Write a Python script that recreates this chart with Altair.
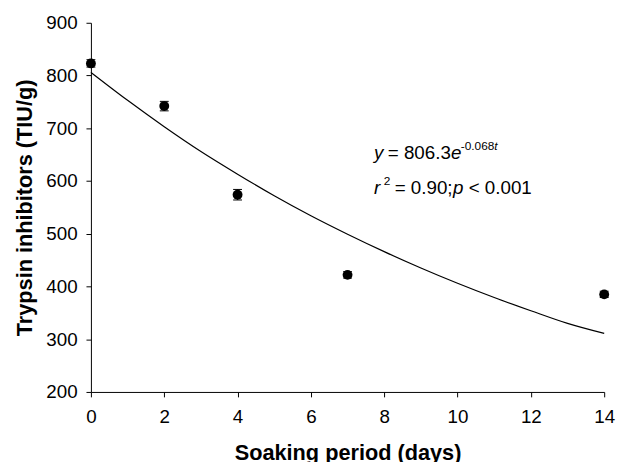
import altair as alt
import pandas as pd

# ---- data ----
days = [0, 2, 4, 7, 14]
trypsin = [823, 742, 574, 422, 385]
err = [7, 9, 10, 6, 6]

fit_days = [0, 1, 2, 3, 4, 5, 6, 7, 8, 9, 10, 11, 12, 13, 14]
fit_vals = [806, 753, 703, 656, 613, 572, 534, 499, 466, 435, 406, 379, 354, 330, 311]

x_ticks = [0, 2, 4, 6, 8, 10, 12, 14]
y_ticks = [200, 300, 400, 500, 600, 700, 800, 900]

ann_t = [7.72]
ann_line1 = [642]
ann_line2 = [576]

pts = pd.DataFrame({
    "t": days,
    "v": trypsin,
    "lo": [v - e for v, e in zip(trypsin, err)],
    "hi": [v + e for v, e in zip(trypsin, err)],
})
fit = pd.DataFrame({"t": fit_days, "v": fit_vals})
a1 = pd.DataFrame({"t": ann_t, "v": ann_line1})
a2 = pd.DataFrame({"t": ann_t, "v": ann_line2})

FONT = "Liberation Sans"
xs = alt.Scale(domain=[0, 14], nice=False, zero=False)
ys = alt.Scale(domain=[200, 900], nice=False, zero=False)

xa = alt.Axis(values=x_ticks, title="Soaking period (days)", grid=False,
              tickSize=5, labelFontSize=19, labelPadding=11, labelFont=FONT,
              titleFont=FONT, titleFontSize=22, titleFontWeight="bold",
              titlePadding=16, domainColor="black", tickColor="black",
              labelColor="black", titleColor="black", labelFlush=False)
ya = alt.Axis(values=y_ticks, title="Trypsin inhibitors (TIU/g)", grid=False,
              tickSize=5, labelFontSize=19, labelPadding=9, labelFont=FONT,
              titleFont=FONT, titleFontSize=22, titleFontWeight="bold",
              titlePadding=9, domainColor="black", tickColor="black",
              labelColor="black", titleColor="black")


def X(f="t"):
    return alt.X(f"{f}:Q", scale=xs, axis=xa)


def Y(f="v"):
    return alt.Y(f"{f}:Q", scale=ys, axis=ya)


curve = alt.Chart(fit).mark_line(color="black", strokeWidth=1.2,
                                 interpolate="monotone").encode(x=X(), y=Y())

bars = alt.Chart(pts).mark_rule(color="black", strokeWidth=1).encode(
    x=X(), y=Y("lo"), y2="hi:Q")
cap_lo = alt.Chart(pts).mark_tick(orient="horizontal", color="black", size=9,
                                  thickness=1, opacity=1).encode(x=X(), y=Y("lo"))
cap_hi = alt.Chart(pts).mark_tick(orient="horizontal", color="black", size=9,
                                  thickness=1, opacity=1).encode(x=X(), y=Y("hi"))
dots = alt.Chart(pts).mark_circle(color="black", size=100, opacity=1).encode(
    x=X(), y=Y())


def txt(df, s, dx, size=19, italic=False, dy=0):
    kw = dict(text=s, dx=dx, dy=dy, align="left", baseline="alphabetic",
              font=FONT, fontSize=size, color="black")
    if italic:
        kw["fontStyle"] = "italic"
    return alt.Chart(df).mark_text(**kw).encode(x=X(), y=Y())


ann = [
    txt(a1, "y", 0, italic=True),
    txt(a1, "= 806.3", 14),
    txt(a1, "e", 78, italic=True),
    txt(a1, "-0.068", 88, size=12, dy=-9),
    txt(a1, "t", 122, size=12, italic=True, dy=-9),
    txt(a2, "r", 0, italic=True),
    txt(a2, "2", 10, size=12, dy=-9),
    txt(a2, "= 0.90;", 21),
    txt(a2, "p", 80, italic=True),
    txt(a2, "< 0.001", 96),
]

chart = alt.layer(curve, bars, cap_lo, cap_hi, dots, *ann).properties(
    width=520, height=374,
    autosize=alt.AutoSizeParams(type="none"),
    padding={"left": 84, "top": 12, "right": 15, "bottom": 68},
    background="white",
).configure_view(stroke=None)

chart.save("out.html", embed_options={"renderer": "svg", "actions": False})
